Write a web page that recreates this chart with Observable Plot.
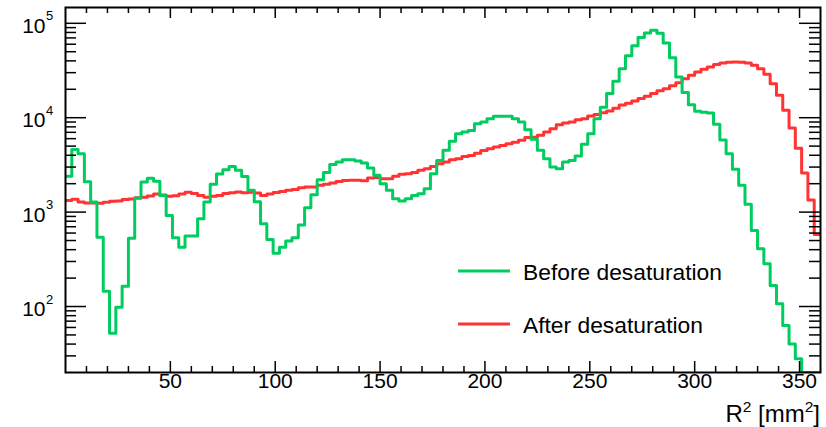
<!DOCTYPE html>
<html>
<head>
<meta charset="utf-8">
<script src="https://cdn.jsdelivr.net/npm/d3@7"></script>
<script src="https://cdn.jsdelivr.net/npm/@observablehq/plot@0.6"></script>
<style>
  html, body { margin: 0; padding: 0; background: #fff; }
</style>
</head>
<body>
<div id="chart"></div>
<script>
// Histogram: 120 bins of width 3 mm^2 over R^2 = 0..360
const binWidth = 3;
const xDomain = [0, 360];
const yDomain = [20, 1.47e5];

// "Before desaturation" (green) bin contents
const before = [
  2400, 4600, 4160, 2100, 1280, 543, 145, 52, 98, 164,
  530, 1400, 2080, 2290, 2120, 1500, 923, 535, 425, 557,
  560, 851, 1280, 1970, 2530, 2810, 3050, 2770, 2390, 1700,
  1290, 753, 512, 367, 425, 493, 535, 730, 1114, 1530,
  2200, 2620, 3190, 3390, 3580, 3580, 3480, 3310, 2930, 2450,
  2000, 1700, 1387, 1310, 1387, 1500, 1566, 1770, 2550, 3530,
  4510, 5620, 6780, 7050, 7330, 8650, 9000, 9770, 10350, 10350,
  10350, 9770, 9000, 7450, 5900, 4510, 3680, 3000, 2880, 3390,
  3530, 3930, 5230, 6780, 9770, 12900, 18000, 24400, 33100, 45300,
  58000, 70600, 79100, 84500, 78500, 62000, 43200, 27000, 18500, 13700,
  11700, 11400, 11200, 8500, 5800, 4160, 2850, 1920, 1210, 640,
  409, 284, 167, 107, 63, 40, 28, 20, 20, 20
];

// "After desaturation" (red) bin contents
const after = [
  1330, 1370, 1280, 1250, 1250, 1240, 1270, 1300, 1310, 1360,
  1380, 1420, 1440, 1480, 1560, 1520, 1470, 1490, 1560, 1620,
  1570, 1500, 1440, 1470, 1500, 1570, 1600, 1630, 1600, 1620,
  1590, 1500, 1560, 1610, 1650, 1700, 1740, 1810, 1840, 1850,
  1920, 1970, 2040, 2110, 2160, 2180, 2180, 2150, 2300, 2330,
  2260, 2250, 2400, 2520, 2550, 2620, 2770, 2880, 3050, 3250,
  3390, 3580, 3670, 3880, 3980, 4200, 4500, 4690, 4880, 5080,
  5300, 5500, 5760, 6160, 6200, 6520, 7050, 7660, 8400, 8770,
  9000, 9500, 9770, 10400, 10800, 11300, 11800, 12600, 13600, 14200,
  15000, 16000, 16900, 18000, 19300, 20300, 21800, 23400, 25900, 28100,
  30500, 32600, 34500, 36500, 38000, 38600, 38900, 38600, 38000, 35900,
  33100, 28800, 22900, 17300, 12000, 7800, 4750, 2600, 1340, 580
];

const seriesNames = ["Before desaturation", "After desaturation"];
const seriesColors = ["#00cc5f", "#ff3333"];

// Axis ticks
const xMajor = [50, 100, 150, 200, 250, 300, 350];
const xMinor = d3.range(10, 360, 10).filter(v => v % 50 !== 0);
const yMajor = [1e2, 1e3, 1e4, 1e5];
const yExponents = ["2", "3", "4", "5"];
const yMinor = [];
for (const dec of [10, 100, 1000, 10000]) for (let k = 2; k <= 9; k++) { const v = k * dec; if (v > yDomain[0]) yMinor.push(v); }

function steps(values) {
  const pts = values.map((v, i) => ({x: i * binWidth, y: v}));
  pts.push({x: values.length * binWidth, y: values[values.length - 1]});
  return pts;
}

const W = 826, H = 427;
const mL = 65, mR = 6, mT = 7, mB = 55;
const fW = W - mL - mR, fH = H - mT - mB;
const black = "#000";
const FONT = '"Liberation Sans", Arial, Helvetica, sans-serif';

const chart = Plot.plot({
  width: W, height: H,
  marginLeft: mL, marginRight: mR, marginTop: mT, marginBottom: mB,
  style: {fontFamily: FONT, background: "#fff"},
  x: {domain: xDomain, axis: null},
  y: {type: "log", domain: yDomain, axis: null},
  marks: [
    Plot.line(steps(after), {x: "x", y: "y", curve: "step-after", stroke: seriesColors[1], strokeWidth: 3, clip: true}),
    Plot.line(steps(before), {x: "x", y: "y", curve: "step-after", stroke: seriesColors[0], strokeWidth: 3, clip: true}),
    // x ticks bottom & top
    Plot.ruleX(xMajor, {insetTop: fH - 11, stroke: black, strokeWidth: 1.5}),
    Plot.ruleX(xMinor, {insetTop: fH - 6, stroke: black, strokeWidth: 1.5}),
    Plot.ruleX(xMajor, {insetBottom: fH - 11, stroke: black, strokeWidth: 1.5}),
    Plot.ruleX(xMinor, {insetBottom: fH - 6, stroke: black, strokeWidth: 1.5}),
    // y ticks left & right
    Plot.ruleY(yMajor, {insetRight: fW - 21, stroke: black, strokeWidth: 1.5}),
    Plot.ruleY(yMinor, {insetRight: fW - 11, stroke: black, strokeWidth: 1.5}),
    Plot.ruleY(yMajor, {insetLeft: fW - 21, stroke: black, strokeWidth: 1.5}),
    Plot.ruleY(yMinor, {insetLeft: fW - 11, stroke: black, strokeWidth: 1.5}),
    Plot.frame({stroke: black, strokeWidth: 2}),
    // x tick labels
    Plot.text(xMajor, {x: d => d, frameAnchor: "bottom", dy: 15, text: d => String(d), fontSize: 21, fill: black}),
    // y tick labels 10^n
    Plot.text(yMajor, {y: d => d, frameAnchor: "left", dx: -20, dy: 3, textAnchor: "end", text: () => "10", fontSize: 21, fill: black}),
    Plot.text(yMajor, {y: d => d, frameAnchor: "left", dx: -19.5, dy: -7, textAnchor: "start", text: (d, i) => yExponents[i], fontSize: 13, fill: black})
  ]
});

document.getElementById("chart").appendChild(chart);

const svg = d3.select(chart);

// Axis title R^2 [mm^2], right-aligned at the frame's right edge
const title = svg.append("text")
  .attr("x", mL + fW).attr("y", 421.5)
  .attr("text-anchor", "end").attr("font-size", 24).attr("fill", black)
  .style("font-family", FONT);
title.append("tspan").text("R");
title.append("tspan").attr("dy", -10).attr("font-size", 15.5).text("2");
title.append("tspan").attr("dy", 10).text(" [mm");
title.append("tspan").attr("dy", -10).attr("font-size", 15.5).text("2");
title.append("tspan").attr("dy", 10).text("]");

// Legend inside the frame
const legend = svg.append("g");
const legendRows = [
  {name: seriesNames[0], color: seriesColors[0], y: 271},
  {name: seriesNames[1], color: seriesColors[1], y: 324}
];
for (const r of legendRows) {
  legend.append("line").attr("x1", 458).attr("x2", 510).attr("y1", r.y).attr("y2", r.y)
    .attr("stroke", r.color).attr("stroke-width", 3);
  legend.append("text").attr("x", 523).attr("y", r.y + 9).attr("font-size", 22.8)
    .attr("text-anchor", "start").attr("fill", black).style("font-family", FONT)
    .text(r.name);
}
</script>
</body>
</html>
